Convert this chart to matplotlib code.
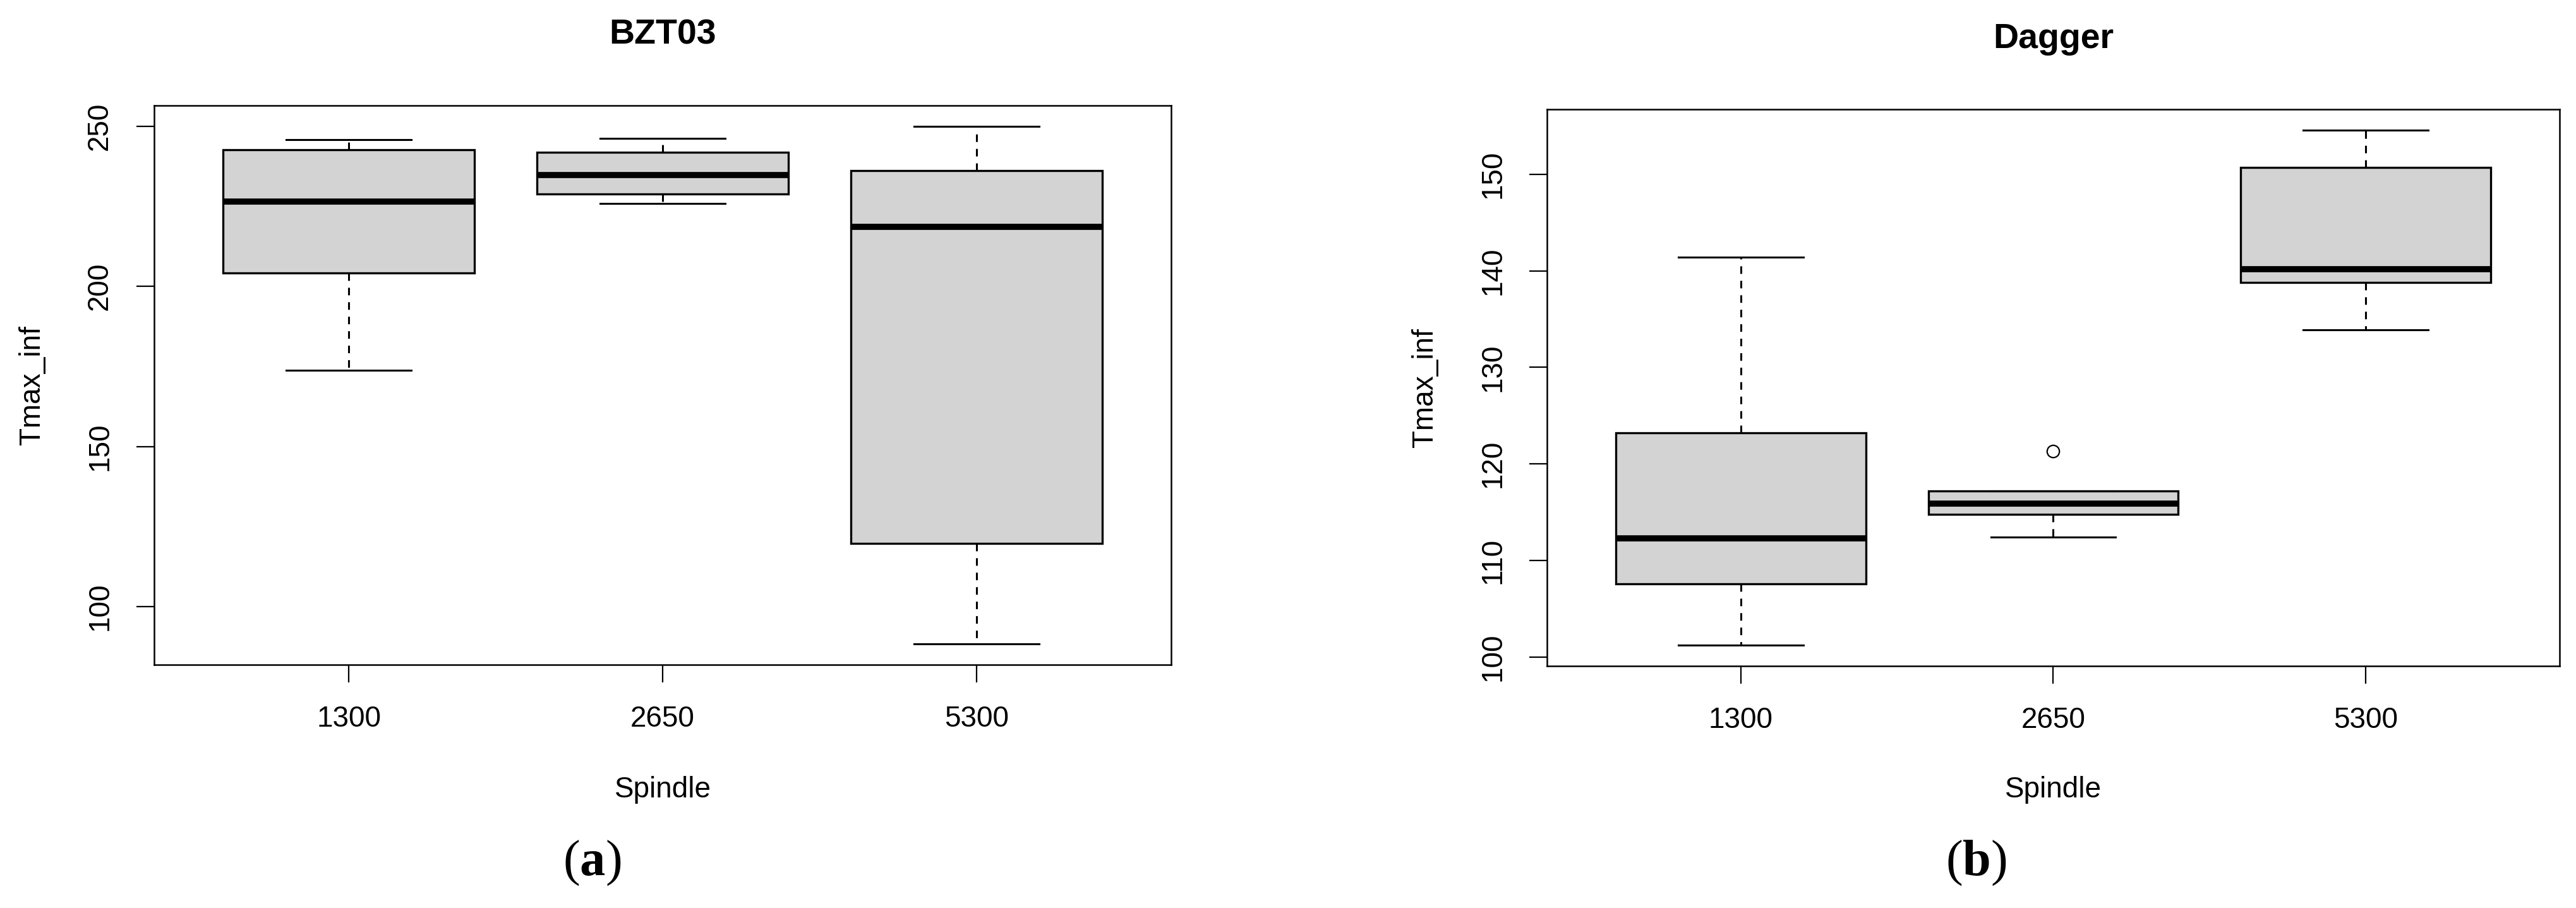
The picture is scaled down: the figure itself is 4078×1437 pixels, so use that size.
import matplotlib
matplotlib.use("Agg")
import matplotlib.pyplot as plt

# values
spindle = ["1300", "2650", "5300"]

bzt_whislo = [173.7, 225.8, 88.3]
bzt_q1 = [204.1, 228.8, 119.7]
bzt_med = [226.5, 234.7, 218.6]
bzt_q3 = [242.6, 241.8, 236.2]
bzt_whishi = [245.9, 246.2, 250.0]
bzt_fliers = [[], [], []]
bzt_yticks = [100, 150, 200, 250]

dag_whislo = [101.2, 112.4, 133.9]
dag_q1 = [107.6, 114.8, 138.8]
dag_med = [112.3, 115.9, 140.2]
dag_q3 = [123.2, 117.2, 150.7]
dag_whishi = [141.4, 117.2, 154.6]
dag_fliers = [[], [121.3], []]
dag_yticks = [100, 110, 120, 130, 140, 150]

W, H = 4078, 1437
DPI = 100
plt.rcParams["font.family"] = ["Liberation Sans", "DejaVu Sans"]
plt.rcParams["lines.scale_dashes"] = False
plt.rcParams["mathtext.fontset"] = "custom"
plt.rcParams["mathtext.rm"] = "Liberation Serif"
plt.rcParams["mathtext.bf"] = "Liberation Serif:bold"


def stats(lo, q1, med, q3, hi, fl):
    out = []
    for i in range(len(med)):
        out.append({"whislo": lo[i], "q1": q1[i], "med": med[i], "q3": q3[i],
                    "whishi": hi[i], "fliers": fl[i]})
    return out


def panel(fig, rect, title, st, yticks, title_y):
    # rect in pixels: left, top, right, bottom
    x0, y0, x1, y1 = rect
    ax = fig.add_axes([x0 / W, 1 - y1 / H, (x1 - x0) / W, (y1 - y0) / H])
    ax.bxp(
        st, positions=[1, 2, 3], widths=0.8, capwidths=0.4, patch_artist=True,
        boxprops=dict(facecolor="#D3D3D3", edgecolor="black", linewidth=2.4),
        medianprops=dict(color="black", linewidth=7.0, solid_capstyle="butt"),
        whiskerprops=dict(color="black", linewidth=2.2, linestyle=(0, (8.6, 7.9))),
        capprops=dict(color="black", linewidth=2.2),
        flierprops=dict(marker="o", markerfacecolor="none", markeredgecolor="black",
                        markersize=14, markeredgewidth=1.6),
    )
    # R style: range of the data plus 4% on each side
    vals = [s["whislo"] for s in st] + [s["whishi"] for s in st]
    vals += [f for s in st for f in s["fliers"]]
    pad = (max(vals) - min(vals)) * 0.04
    ax.set_ylim(min(vals) - pad, max(vals) + pad)
    ax.set_xlim(0.5 - 0.12, 3.5 + 0.12)
    ax.set_xticks([1, 2, 3])
    ax.set_xticklabels(spindle)
    ax.set_yticks(yticks)
    for sp in ax.spines.values():
        sp.set_linewidth(1.8)
    ax.tick_params(axis="both", direction="out", length=20, width=1.6, labelsize=33)
    ax.tick_params(axis="x", pad=26)
    ax.tick_params(axis="y", pad=26, labelrotation=90)
    for lab in ax.get_yticklabels():
        lab.set_va("center")
    ax.set_ylabel("Tmax_inf", fontsize=33)
    ax.set_xlabel("Spindle", fontsize=33)
    ax.xaxis.label.set_va("center")
    ax.yaxis.label.set_va("center")
    ax.yaxis.set_label_coords(-193 / (x1 - x0), 0.5)
    ax.xaxis.set_label_coords(0.5, -(1250 - y1) / (y1 - y0))
    fig.text((x0 + x1) / 2 / W, 1 - title_y / H, title, ha="center", va="center",
             fontsize=40, fontweight="bold")
    return ax


fig = plt.figure(figsize=(W / DPI, H / DPI), dpi=DPI)
fig.patch.set_facecolor("white")

panel(fig, (244, 167, 1854, 1052), "BZT03",
      stats(bzt_whislo, bzt_q1, bzt_med, bzt_q3, bzt_whishi, bzt_fliers), bzt_yticks, 56)
panel(fig, (2449, 173, 4052, 1054), "Dagger",
      stats(dag_whislo, dag_q1, dag_med, dag_q3, dag_whishi, dag_fliers), dag_yticks, 62)

for lbl, cx in [("a", 937), ("b", 3128)]:
    fig.text(cx / W, 1 - 1366 / H, "(" + r"$\mathbf{" + lbl + "}$" + ")",
             ha="center", va="center", fontsize=58, family="Liberation Serif")

fig.savefig("out.png", dpi=DPI)
